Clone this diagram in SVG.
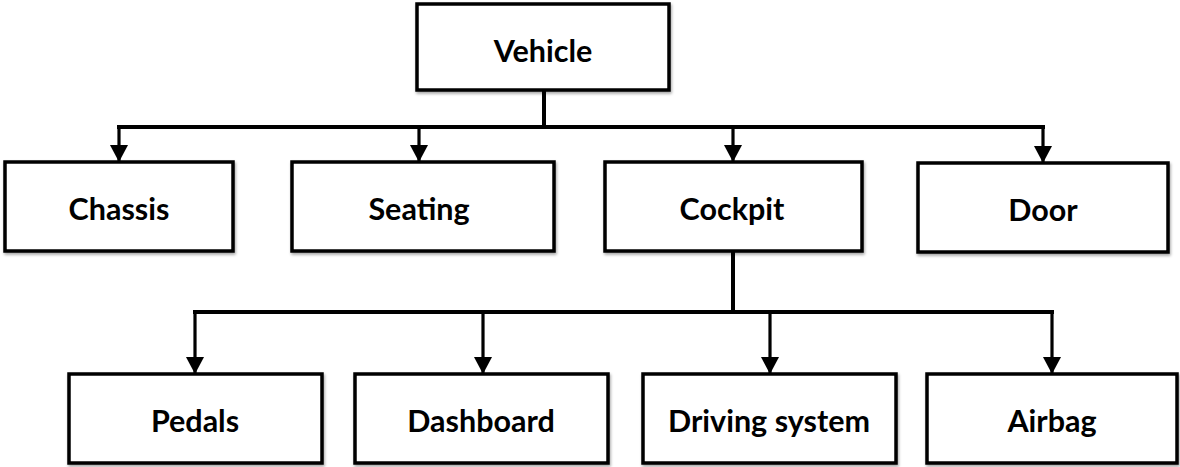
<svg xmlns="http://www.w3.org/2000/svg" width="1180" height="467" viewBox="0 0 1180 467">
<defs>
<marker id="arr" markerUnits="userSpaceOnUse" markerWidth="18" markerHeight="18" refX="17" refY="9" orient="auto">
<path d="M0,0 L17,9 L0,18 Z" fill="#000"/>
</marker>
<filter id="sh" x="-5%" y="-5%" width="110%" height="115%">
<feGaussianBlur in="SourceAlpha" stdDeviation="1.5"/>
<feOffset dx="1" dy="2" result="b"/>
<feComponentTransfer><feFuncA type="linear" slope="0.35"/></feComponentTransfer>
<feMerge><feMergeNode/><feMergeNode in="SourceGraphic"/></feMerge>
</filter>
</defs>
<style>
.box{fill:#fff;stroke:#000;stroke-width:3.5;filter:url(#sh)}
.lbl{font-family:Lato,"Liberation Sans",sans-serif;font-weight:bold;font-size:30.5px;fill:#000;text-anchor:middle}
.ln{fill:none;stroke:#000;stroke-width:4}
.ar{fill:none;stroke:#000;stroke-width:3.2;marker-end:url(#arr)}
</style>
<rect width="1180" height="467" fill="#fff"/>
<g id="connectors">
<path class="ln" d="M544,90 V127"/>
<path class="ln" d="M117,127 H1045"/>
<path class="ar" d="M119,127 V162"/>
<path class="ar" d="M419,127 V162"/>
<path class="ar" d="M733,127 V162"/>
<path class="ar" d="M1043,127 V163"/>
<path class="ln" d="M733,251 V312"/>
<path class="ln" d="M193,312 H1054"/>
<path class="ar" d="M195,312 V374"/>
<path class="ar" d="M483,312 V374"/>
<path class="ar" d="M770,312 V374"/>
<path class="ar" d="M1052,312 V374"/>
</g>
<g id="vehicle"><rect class="box" x="417" y="4" width="252" height="86"/><text class="lbl" x="543" y="62">Vehicle</text></g>
<g id="chassis"><rect class="box" x="5" y="162" width="228" height="89"/><text class="lbl" x="119" y="220">Chassis</text></g>
<g id="seating"><rect class="box" x="292" y="162" width="262" height="89"/><text class="lbl" x="419" y="220">Seating</text></g>
<g id="cockpit"><rect class="box" x="605" y="162" width="257" height="89"/><text class="lbl" x="732" y="220">Cockpit</text></g>
<g id="door"><rect class="box" x="918" y="163" width="250" height="89"/><text class="lbl" x="1043" y="221">Door</text></g>
<g id="pedals"><rect class="box" x="69" y="374" width="253" height="89"/><text class="lbl" x="195" y="432">Pedals</text></g>
<g id="dashboard"><rect class="box" x="355" y="374" width="253" height="89"/><text class="lbl" x="481" y="432">Dashboard</text></g>
<g id="driving"><rect class="box" x="643" y="374" width="253" height="89"/><text class="lbl" x="769" y="432">Driving system</text></g>
<g id="airbag"><rect class="box" x="927" y="374" width="250" height="89"/><text class="lbl" x="1052" y="432">Airbag</text></g>
</svg>
